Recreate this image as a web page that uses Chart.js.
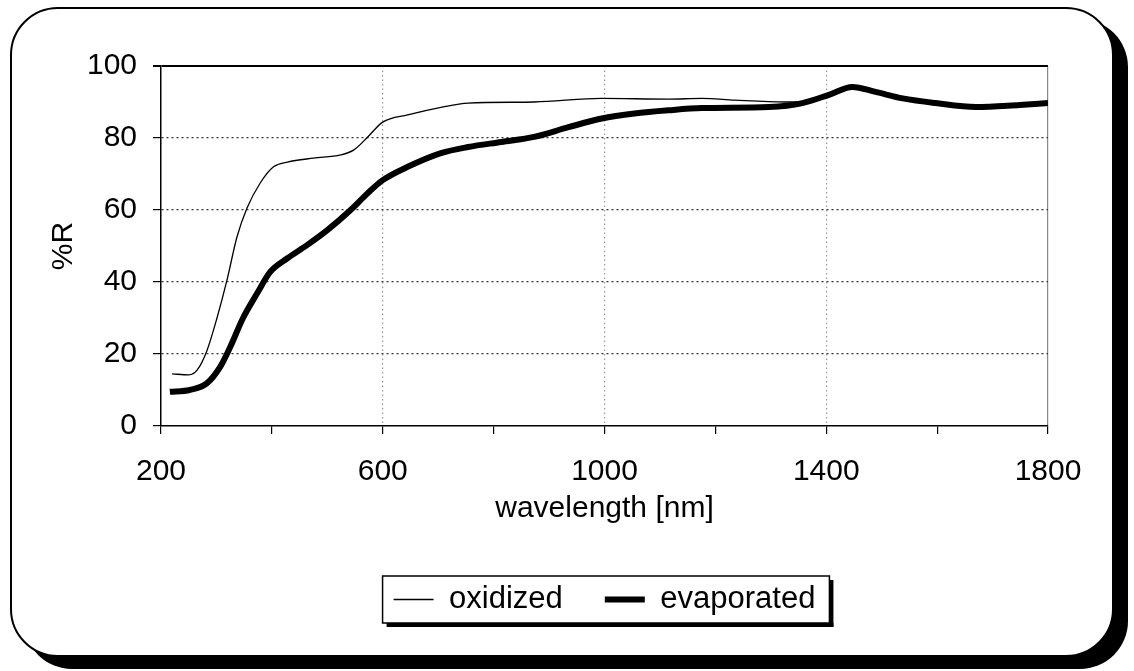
<!DOCTYPE html>
<html>
<head>
<meta charset="utf-8">
<title>%R vs wavelength</title>
<script src="https://cdn.jsdelivr.net/npm/chart.js@4/dist/chart.umd.min.js"></script>
<style>
  html, body { margin: 0; padding: 0; background: #fff; }
  #wrap { position: relative; width: 1134px; height: 671px; overflow: hidden; }
  #frame {
    position: absolute; left: 10px; top: 7px; width: 1104px; height: 650px;
    box-sizing: border-box; border: 2px solid #000; border-radius: 48px;
    box-shadow: 14px 12px 0 #000; background: #fff;
  }
  #chartBox { position: absolute; left: 0; top: 0; width: 1134px; height: 671px; }
</style>
</head>
<body>
<div id="wrap">
  <div id="frame"></div>
  <div id="chartBox"><canvas id="lineChart" width="1134" height="671"></canvas></div>
</div>
<script>
// data
var oxWave = [220, 250, 265, 283, 301, 319, 337, 355, 379, 403, 428, 475, 524, 548, 573, 600, 645, 705, 754, 873, 995, 1116, 1176, 1235, 1326, 1370, 1405, 1447, 1489, 1538, 1597, 1670, 1749, 1800];
var oxidized = [14.5, 14.2, 15.5, 21, 30, 40.5, 52.5, 60.5, 67.5, 72, 73.3, 74.4, 75.3, 76.7, 80.3, 84.4, 86.4, 88.5, 89.7, 90, 91, 90.8, 91, 90.5, 90, 90, 92, 94.2, 92.8, 91, 89.7, 88.6, 89.2, 89.7];

var evWave = [216, 252, 283, 307, 325, 348, 374, 397, 428, 464, 500, 542, 573, 600, 645, 705, 754, 814, 873, 935, 995, 1054, 1116, 1176, 1297, 1357, 1405, 1447, 1489, 1538, 1597, 1670, 1749, 1800];
var evaporated = [9.5, 10, 11.9, 16.5, 22, 30, 37, 42.8, 46.6, 50.3, 54.4, 60, 64.7, 68.3, 72, 75.8, 77.5, 78.9, 80.3, 83, 85.4, 86.8, 87.7, 88.3, 88.6, 89.7, 92, 94.2, 92.8, 91, 89.7, 88.6, 89.2, 89.7];

var xLabels = [200, 600, 1000, 1400, 1800];
var yLabels = [0, 20, 40, 60, 80, 100];

var FONT = 'Liberation Sans, Arial, sans-serif';

function pairs(xs, ys) {
  var out = [];
  for (var i = 0; i < xs.length; i++) out.push({x: xs[i], y: ys[i]});
  return out;
}

// box with shadow round the legend items
var legendBox = {
  id: 'legendBox',
  afterDraw: function(chart) {
    var lg = chart.legend;
    if (!lg || !lg.legendHitBoxes.length) return;
    var l = Infinity, r = -Infinity, t = Infinity, b = -Infinity;
    lg.legendHitBoxes.forEach(function(h) {
      l = Math.min(l, h.left); r = Math.max(r, h.left + h.width);
      t = Math.min(t, h.top); b = Math.max(b, h.top + h.height);
    });
    var x0 = l - 11, x1 = r + 14, y0 = t - 8, y1 = b + 8;
    var c = chart.ctx;
    c.save();
    c.fillStyle = '#000';
    c.fillRect(x0 + 4, y1, x1 - x0, 4);
    c.fillRect(x1, y0 + 4, 4, y1 - y0);
    c.strokeStyle = '#000';
    c.lineWidth = 1.5;
    c.strokeRect(x0, y0, x1 - x0, y1 - y0);
    c.restore();
  }
};

var ctxL = document.getElementById("lineChart").getContext('2d');
var myLineChart = new Chart(ctxL, {
  type: 'line',
  data: {
    datasets: [{
        label: "oxidized",
        data: pairs(oxWave, oxidized),
        borderColor: '#000',
        backgroundColor: '#000',
        borderWidth: 1.3,
        pointRadius: 0,
        cubicInterpolationMode: 'monotone',
        pointStyle: 'line'
      },
      {
        label: "evaporated",
        data: pairs(evWave, evaporated),
        borderColor: '#000',
        backgroundColor: '#000',
        borderWidth: 6,
        pointRadius: 0,
        cubicInterpolationMode: 'monotone',
        pointStyle: 'line'
      }
    ]
  },
  options: {
    responsive: false,
    animation: false,
    layout: { padding: { left: 42, right: 86, top: 66, bottom: 46 } },
    plugins: {
      tooltip: { enabled: false },
      legend: {
        position: 'bottom',
        fullSize: false,
        labels: {
          usePointStyle: true,
          pointStyleWidth: 40,
          padding: 42,
          color: '#000',
          font: { family: FONT, size: 31 }
        }
      }
    },
    scales: {
      x: {
        type: 'linear',
        min: 200,
        max: 1800,
        afterFit: function(s) { s.height = 116; },
        ticks: {
          stepSize: 200,
          padding: 20,
          maxRotation: 0,
          autoSkip: false,
          color: '#000',
          font: { family: FONT, size: 30 },
          callback: function(v) { return xLabels.indexOf(v) >= 0 ? String(v) : ''; }
        },
        grid: {
          tickLength: 8,
          tickColor: '#000',
          color: function(c) {
            var v = c.tick ? c.tick.value : 0;
            if (v === 1800) return '#888';
            if (v === 600 || v === 1000 || v === 1400) return '#999';
            return 'rgba(0,0,0,0)';
          },
          lineWidth: 1.2
        },
        border: {
          color: '#000', width: 1.5,
          dash: function(c) { return c.tick && c.tick.value === 1800 ? [] : [1.5, 3]; }
        },
        title: {
          display: true,
          text: 'wavelength [nm]',
          color: '#000',
          padding: { top: 4, bottom: 15 },
          font: { family: FONT, size: 30 }
        }
      },
      y: {
        min: 0,
        max: 100,
        afterFit: function(s) { s.width = 119; },
        ticks: {
          stepSize: 10,
          padding: 16,
          color: '#000',
          font: { family: FONT, size: 30 },
          callback: function(v) { return yLabels.indexOf(v) >= 0 ? String(v) : ''; }
        },
        grid: {
          tickLength: 8,
          tickColor: '#000',
          color: function(c) {
            var v = c.tick ? c.tick.value : 0;
            if (v === 100) return '#000';
            if (v > 0 && v % 20 === 0) return '#333';
            return 'rgba(0,0,0,0)';
          },
          lineWidth: function(c) { return c.tick && c.tick.value === 100 ? 2 : 1.2; }
        },
        border: {
          color: '#000', width: 1.5,
          dash: function(c) { return c.tick && c.tick.value === 100 ? [] : [2, 3]; }
        },
        title: {
          display: true,
          text: '%R',
          color: '#000',
          padding: { top: 4, bottom: 4 },
          font: { family: FONT, size: 30 }
        }
      }
    }
  },
  plugins: [legendBox]
});
</script>
</body>
</html>
